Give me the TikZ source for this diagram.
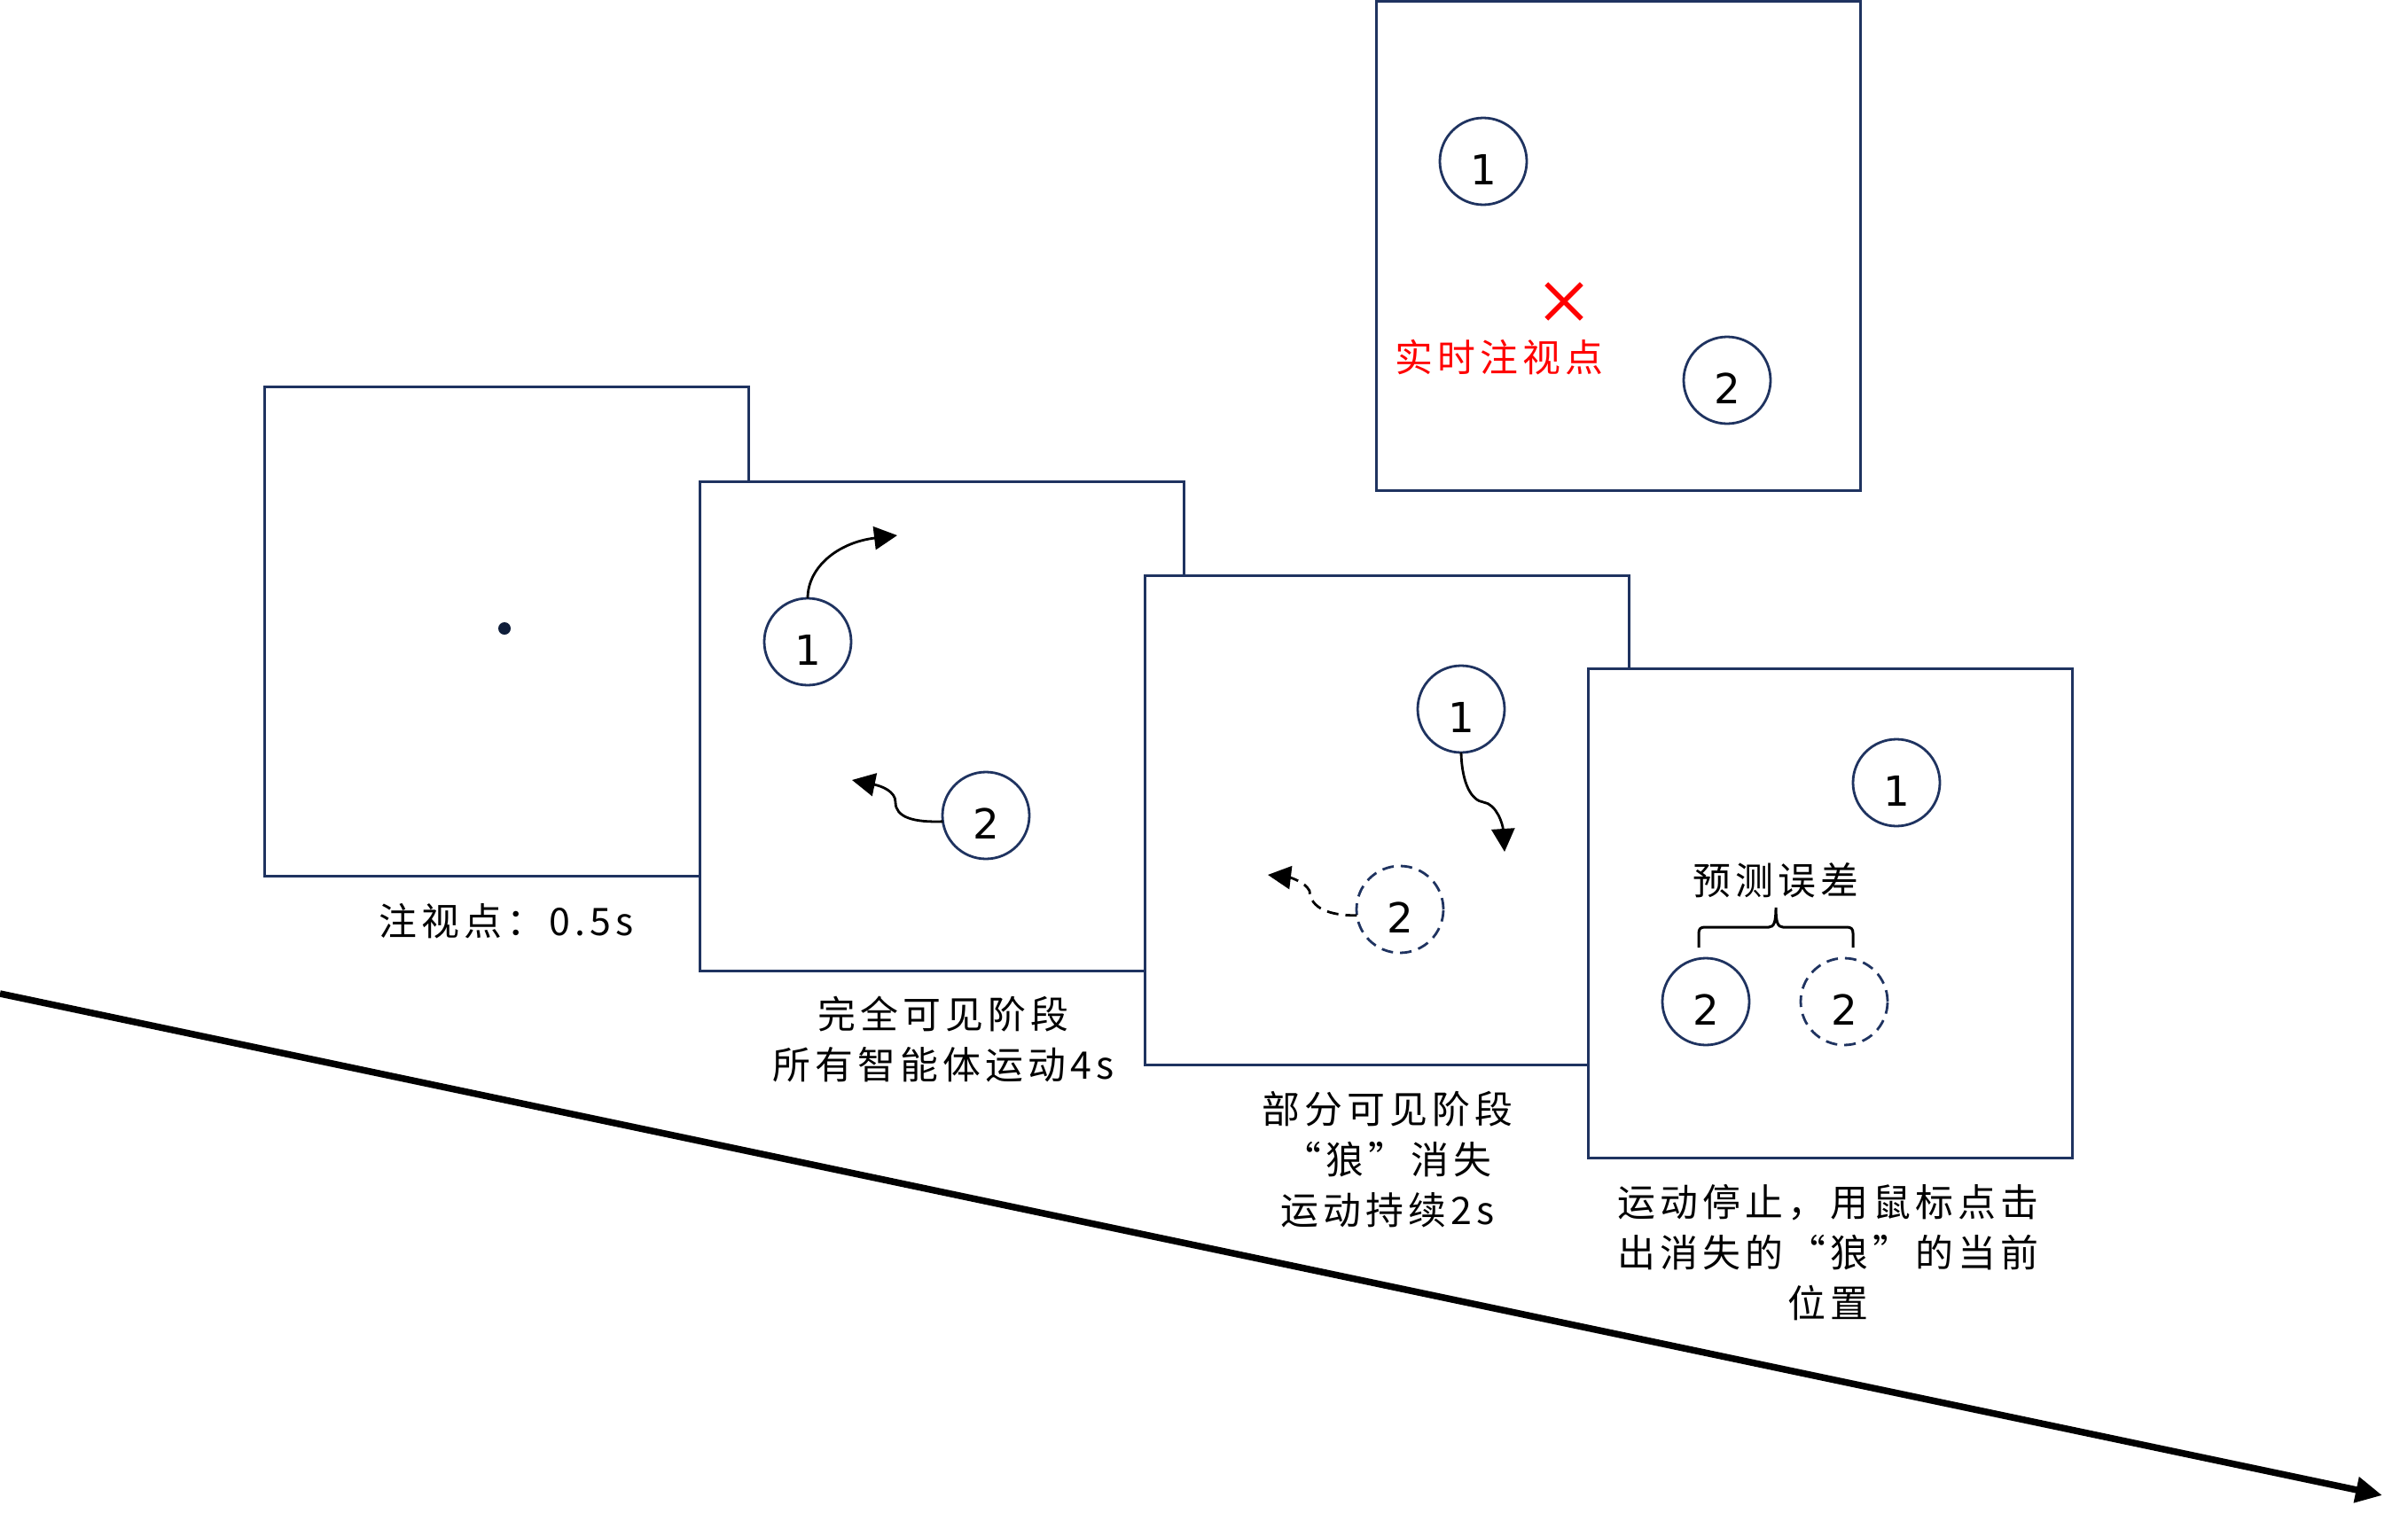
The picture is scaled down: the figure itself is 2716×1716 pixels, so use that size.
\documentclass[tikz,border=0pt]{standalone}
\usepackage{fontspec}
\newfontfamily\cjk[LetterSpace=12]{Noto Sans CJK SC}
\newfontfamily\numf{DejaVu Sans}
\usetikzlibrary{arrows.meta,shapes.misc}
\definecolor{navy}{HTML}{1F3360}
\definecolor{dotnavy}{HTML}{0F1E3A}
\newcommand\aglab[1]{\raisebox{-0.9mm}[3.4mm][0pt]{#1}}
\begin{document}
\begin{tikzpicture}[x=0.1mm,y=-0.1mm,
  frame/.style={draw=navy,line width=0.3mm,fill=white,minimum width=54.6mm,minimum height=55.2mm,inner sep=0pt,outer sep=0pt},
  agent/.style={circle,draw=navy,line width=0.28mm,minimum size=9.8mm,inner sep=0pt,outer sep=0pt,font=\numf\fontsize{13.3pt}{16pt}\selectfont},
  ghost/.style={agent,dash pattern=on 1.3mm off 0.8mm},
  fixdot/.style={circle,fill=dotnavy,minimum size=1.4mm,inner sep=0pt},
  captext/.style={font=\cjk\fontsize{12.2pt}{16.2pt}\selectfont,align=center,inner sep=0pt},
  move/.style={draw=black,line width=0.28mm,-{Triangle[length=2.6mm,width=2.6mm]}},
  ghostmove/.style={move,dash pattern=on 1.3mm off 0.8mm},
  timeline/.style={draw=black,line width=0.75mm,-{Triangle[length=3mm,width=2.8mm]}},
  bracepath/.style={draw=black,line width=0.3mm},
  gazex/.style={cross out,draw=red,line width=0.55mm,minimum size=3.4mm,inner sep=0pt}
]
\useasboundingbox[fill=white] (0,0) rectangle (2716,1716);

% frame 1: fixation
\node[frame] (f1) at (571,712.5) {};
\node[fixdot] (fix) at (569,709) {};
\node[captext] (cap1) at (571,1039) {注视点：0.5s};

% frame 2: fully visible
\node[frame] (f2) at (1062.5,819.5) {};
\node[agent] (a1) at (911,724) {\aglab{1}};
\node[agent] (a2) at (1112,920) {\aglab{2}};
\coordinate (a1e) at (1012,604);
\coordinate (a2e) at (961,880);
\draw[move] (a1.north) .. controls (911,640) and (945,612) .. (a1e);
\draw[move] (a2.188) .. controls (1030,928) and (1010,922) .. (1010,905) .. controls (1010,893) and (995,887) .. (a2e);
\node[captext] (cap2) at (1064,1173) {完全可见阶段\\所有智能体运动4s};

% frame 3: partially visible
\node[frame] (f3) at (1564,925) {};
\node[agent] (b1) at (1648,800) {\aglab{1}};
\node[ghost] (b2) at (1579,1026) {\aglab{2}};
\coordinate (b1e) at (1697,961);
\coordinate (b2e) at (1430,987);
\draw[move] (b1.south) .. controls (1649,885) and (1660,903) .. (1673,905) .. controls (1688,907) and (1695,930) .. (b1e);
\draw[ghostmove] (b2.188) .. controls (1500,1033) and (1478,1025) .. (1477,1005) .. controls (1472,995) and (1455,990) .. (b2e);
\node[captext] (cap3) at (1565,1308) {部分可见阶段\\“狼”消失\\运动持续2s};

% frame 4: response
\node[frame] (f4) at (2064,1030.5) {};
\node[agent] (c1) at (2139,883) {\aglab{1}};
\node[captext] (err) at (2003,993) {预测误差};
\node[agent] (c2) at (1924,1130) {\aglab{2}};
\node[ghost] (c2p) at (2080,1130) {\aglab{2}};
\draw[bracepath] (1916,1069) -- (1916,1053) .. controls (1916,1048) and (1918,1046) .. (1923,1046)
  -- (1995,1046) .. controls (2001,1046) and (2003,1040) .. (2003,1024)
  .. controls (2003,1040) and (2005,1046) .. (2011,1046) -- (2083,1046)
  .. controls (2088,1046) and (2090,1048) .. (2090,1053) -- (2090,1069);
\node[captext] (cap4) at (2062,1413) {运动停止，用鼠标点击\\出消失的“狼”的当前\\位置};

% frame 5: real-time gaze
\node[frame] (f5) at (1825,277.5) {};
\node[agent] (d1) at (1673,182) {\aglab{1}};
\node[agent] (d2) at (1948,429) {\aglab{2}};
\node[gazex] (gaze) at (1764,340) {};
\node[captext,text=red] (gazet) at (1691,403) {实时注视点};

% time axis
\coordinate (t0) at (0,1121);
\coordinate (t1) at (2687,1687);
\draw[timeline] (t0) -- (t1);
\end{tikzpicture}
\end{document}
